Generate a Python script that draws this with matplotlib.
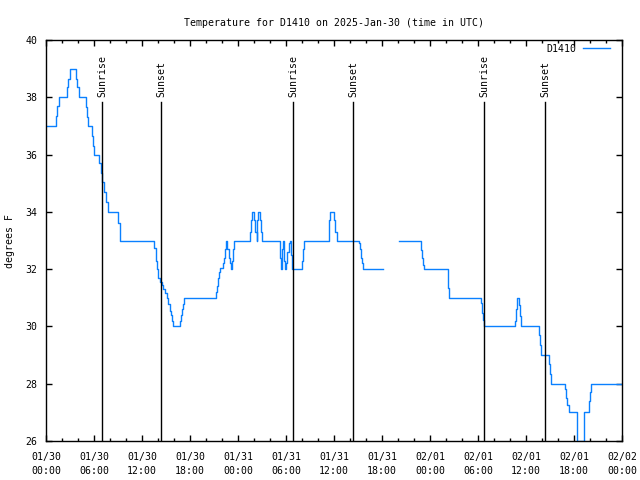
import matplotlib
matplotlib.use("Agg")
import matplotlib.pyplot as plt
import numpy as np
from matplotlib.ticker import MultipleLocator

# hours since 2025-01-30 00:00 UTC, value holds until the next time (steps)
hours = [
    0, 1.25, 1.42, 1.6, 2.6, 2.8, 3.0, 3.75, 3.92, 4.1,
    5.0, 5.12, 5.25, 5.79, 5.92, 6.04, 6.67, 6.85, 7.05, 7.3,
    7.5, 7.75, 9.05, 9.2, 9.3, 13.54, 13.7, 13.83, 14.04, 14.25,
    14.46, 14.67, 14.87, 15.08, 15.29, 15.5, 15.62, 15.75, 15.83, 16.75,
    16.87, 17.04, 17.17, 17.29, 21.25, 21.375, 21.54, 21.67, 21.79, 22.08,
    22.2, 22.375, 22.5, 22.67, 22.83, 23.0, 23.125, 23.29, 23.42, 23.54,
    25.5, 25.625, 25.79, 26.04, 26.17, 26.33, 26.42, 26.54, 26.79, 26.92,
    27.04, 29.29, 29.42, 29.54, 29.67, 29.79, 29.92, 30.04, 30.17, 30.33,
    30.46, 30.6, 30.71, 32.04, 32.17, 32.29, 35.33, 35.42, 35.5, 36.0,
    36.125, 36.375, 39.17, 39.29, 39.42, 39.54, 39.67, 42.08, 44.17, 46.92,
    47.04, 47.17, 47.29, 50.21, 50.29, 50.42, 54.42, 54.54, 54.67, 54.75,
    58.67, 58.79, 58.92, 59.17, 59.29, 59.42, 61.67, 61.79, 61.92, 62.92,
    63.04, 63.17, 64.92, 65.04, 65.17, 65.42, 66.42, 67.25, 67.92, 68.04,
    68.17, 72.0,
]
temps = [
    37, 37.35, 37.7, 38, 38.35, 38.65, 39, 38.65, 38.35, 38,
    37.65, 37.3, 37, 36.65, 36.3, 36, 35.7, 35.35, 35.05, 34.7,
    34.35, 34, 33.6, 33.3, 33, 32.75, 32.3, 32, 31.7, 31.55,
    31.45, 31.3, 31.15, 31.0, 30.8, 30.55, 30.4, 30.2, 30, 30.2,
    30.4, 30.6, 30.8, 31, 31.2, 31.4, 31.7, 31.9, 32.05, 32.2,
    32.4, 32.7, 33, 32.7, 32.4, 32.2, 32, 32.3, 32.7, 33,
    33.3, 33.7, 34, 33.7, 33.3, 33, 33.7, 34, 33.7, 33.3,
    33, 32.4, 32, 32.7, 33, 32.3, 32, 32.2, 32.6, 32.9,
    33, 32.5, 32, 32.3, 32.7, 33, 33.3, 33.7, 34, 33.7,
    33.3, 33, 32.9, 32.7, 32.4, 32.2, 32, np.nan, 33, 32.67,
    32.38, 32.14, 32, 31.74, 31.33, 31, 30.81, 30.46, 30.22, 30,
    30.2, 30.6, 31, 30.75, 30.35, 30, 29.7, 29.35, 29, 28.7,
    28.35, 28, 27.8, 27.5, 27.25, 27, 26, 27, 27.4, 27.7,
    28, 28,
]

sunrise = [7.04, 30.92, 54.79]
sunset = [14.41, 38.41, 62.41]

xtick_hours = list(range(0, 73, 6))
xtick_labels = [
    "01/30\n00:00", "01/30\n06:00", "01/30\n12:00", "01/30\n18:00",
    "01/31\n00:00", "01/31\n06:00", "01/31\n12:00", "01/31\n18:00",
    "02/01\n00:00", "02/01\n06:00", "02/01\n12:00", "02/01\n18:00",
    "02/02\n00:00",
]

plt.rcParams["font.family"] = ["DejaVu Sans Mono"]
fs = 7.1

fig = plt.figure(figsize=(6.4, 4.8), dpi=100)
ax = fig.add_axes([46 / 640, 39 / 480, 576 / 640, 401 / 480])

ax.plot(hours, temps, drawstyle="steps-post", color="#0a80ff", lw=1.0, label="D1410")

for t in sunrise:
    ax.plot([t, t], [26, 37.82], color="black", lw=1.0)
    ax.text(t, 38.0, "Sunrise", rotation=90, ha="center", va="bottom", fontsize=fs)
for t in sunset:
    ax.plot([t, t], [26, 37.82], color="black", lw=1.0)
    ax.text(t, 38.0, "Sunset", rotation=90, ha="center", va="bottom", fontsize=fs)

ax.set_xlim(0, 72)
ax.set_ylim(26, 40)
ax.set_xticks(xtick_hours)
ax.set_xticklabels(xtick_labels, fontsize=fs, linespacing=1.5)
ax.xaxis.set_minor_locator(MultipleLocator(2))
ax.set_yticks(range(26, 41, 2))
ax.tick_params(axis="y", labelsize=fs, pad=6)
ax.tick_params(axis="x", pad=8)
ax.tick_params(which="major", direction="in", top=True, right=True, length=4, width=1)
ax.tick_params(which="minor", direction="in", top=True, right=False, length=2.5, width=1)
ax.tick_params(axis="y", which="minor", left=False, right=False)
for sp in ax.spines.values():
    sp.set_linewidth(1.0)

ax.set_title("Temperature for D1410 on 2025-Jan-30 (time in UTC)", fontsize=fs, pad=10)
ax.set_ylabel("degrees F", fontsize=fs)
ax.yaxis.set_label_coords(-0.054, 0.5)

leg = ax.legend(loc="upper right", bbox_to_anchor=(0.986, 1.0), frameon=False,
                fontsize=fs, handlelength=2.75, markerfirst=False,
                borderaxespad=0.0, handletextpad=0.7)

fig.savefig("out.png", dpi=100)
